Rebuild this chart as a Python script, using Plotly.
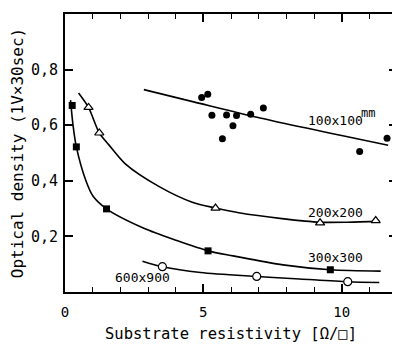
import plotly.graph_objects as go

# ---- data ----
x_100 = [4.94, 5.16, 5.31, 5.84, 6.20, 6.07, 5.69, 6.71, 7.17, 10.65, 11.64]
y_100 = [0.700, 0.711, 0.636, 0.637, 0.635, 0.598, 0.551, 0.639, 0.662, 0.505, 0.553]
fit_100_x = [2.85, 4.65, 7.05, 11.68]
fit_100_y = [0.728, 0.684, 0.626, 0.528]

x_200 = [0.85, 1.24, 5.44, 9.22, 11.23]
y_200 = [0.664, 0.572, 0.302, 0.249, 0.257]
fit_200_x = [0.49, 0.85, 1.24, 1.57, 2.18, 3.39, 4.60, 5.44, 6.28, 7.84, 9.22, 10.23, 11.37]
fit_200_y = [0.716, 0.664, 0.572, 0.531, 0.461, 0.380, 0.323, 0.302, 0.285, 0.264, 0.251, 0.251, 0.254]

x_300 = [0.26, 0.41, 1.50, 5.17, 9.59]
y_300 = [0.671, 0.522, 0.299, 0.148, 0.080]
fit_300_x = [0.20, 0.29, 0.41, 0.76, 1.01, 1.50, 2.83, 4.04, 5.17, 6.08, 7.88, 9.59, 11.41]
fit_300_y = [0.690, 0.600, 0.522, 0.399, 0.345, 0.299, 0.230, 0.185, 0.148, 0.130, 0.0975, 0.080, 0.075]

x_600 = [3.52, 6.93, 10.22]
y_600 = [0.091, 0.056, 0.037]
fit_600_x = [2.80, 3.52, 4.90, 6.93, 8.48, 10.22, 11.36]
fit_600_y = [0.111, 0.091, 0.070, 0.056, 0.047, 0.037, 0.034]

x_tickvals = [0, 5, 10]
x_ticktext = ["0", "5", "10"]
x_minor = [1, 2, 3, 4, 6, 7, 8, 9, 11]
y_tickvals = [0.2, 0.4, 0.6, 0.8]
y_ticktext = ["0,2", "0,4", "0,6", "0,8"]

series_labels = ["100x100", "200x200", "300x300", "600x900"]

FONT = "DejaVu Sans Mono"
fig = go.Figure()

line_style = dict(color="black", width=1.6, shape="spline", smoothing=0.8)
for fx, fy in [(fit_100_x, fit_100_y), (fit_200_x, fit_200_y),
               (fit_300_x, fit_300_y), (fit_600_x, fit_600_y)]:
    fig.add_trace(go.Scatter(x=fx, y=fy, mode="lines", line=line_style,
                             hoverinfo="skip"))

fig.add_trace(go.Scatter(x=x_100, y=y_100, mode="markers", name=series_labels[0],
                         marker=dict(symbol="circle", size=7, color="black")))
fig.add_trace(go.Scatter(x=x_200, y=y_200, mode="markers", name=series_labels[1],
                         marker=dict(symbol="triangle-up", size=8, color="white",
                                     line=dict(color="black", width=1.2))))
fig.add_trace(go.Scatter(x=x_300, y=y_300, mode="markers", name=series_labels[2],
                         marker=dict(symbol="square", size=7, color="black")))
fig.add_trace(go.Scatter(x=x_600, y=y_600, mode="markers", name=series_labels[3],
                         marker=dict(symbol="circle", size=8, color="white",
                                     line=dict(color="black", width=1.2))))

ann_font = dict(family=FONT, size=13, color="black")
fig.add_annotation(x=8.72, y=0.616, text=series_labels[0], showarrow=False,
                   xanchor="left", yanchor="middle", font=ann_font)
fig.add_annotation(x=10.62, y=0.645, text="mm", showarrow=False,
                   xanchor="left", yanchor="middle", font=dict(family=FONT, size=12, color="black"))
fig.add_annotation(x=8.7, y=0.285, text=series_labels[1], showarrow=False,
                   xanchor="left", yanchor="middle", font=ann_font)
fig.add_annotation(x=8.7, y=0.124, text=series_labels[2], showarrow=False,
                   xanchor="left", yanchor="middle", font=ann_font)
fig.add_annotation(x=1.72, y=0.052, text=series_labels[3], showarrow=False,
                   xanchor="left", yanchor="middle", font=ann_font)

axis_common = dict(showline=True, linecolor="black", linewidth=2, mirror="allticks",
                   ticks="inside", tickcolor="black", tickwidth=1.5, ticklen=8,
                   showgrid=False, zeroline=False)

fig.update_xaxes(range=[0, 12], tickvals=x_tickvals, ticktext=x_ticktext,
                 tickfont=dict(family=FONT, size=14, color="black"),
                 ticklabelstandoff=6,
                 minor=dict(tickvals=x_minor, ticks="inside", ticklen=5,
                            tickwidth=1.2, tickcolor="black"),
                 title=dict(text="Substrate resistivity [Ω/□]",
                            font=dict(family=FONT, size=15.5, color="black"), standoff=9),
                 **axis_common)
fig.update_yaxes(range=[0, 1.0], tickvals=y_tickvals, ticktext=y_ticktext,
                 tickfont=dict(family=FONT, size=15, color="black"),
                 ticklabelstandoff=2,
                 title=dict(text="Optical density (1V×30sec)",
                            font=dict(family=FONT, size=16, color="black"), standoff=3),
                 **axis_common)

# the page body adds an 8px offset; the figure is sized so that it fits the
# 400x352 window and the plot frame lands where the reference has it
fig.update_layout(width=392, height=344, showlegend=False,
                  margin=dict(l=57, r=3, t=6, b=60, autoexpand=False),
                  plot_bgcolor="white", paper_bgcolor="white",
                  font=dict(family=FONT, color="black"))

fig.write_html("out.html")
